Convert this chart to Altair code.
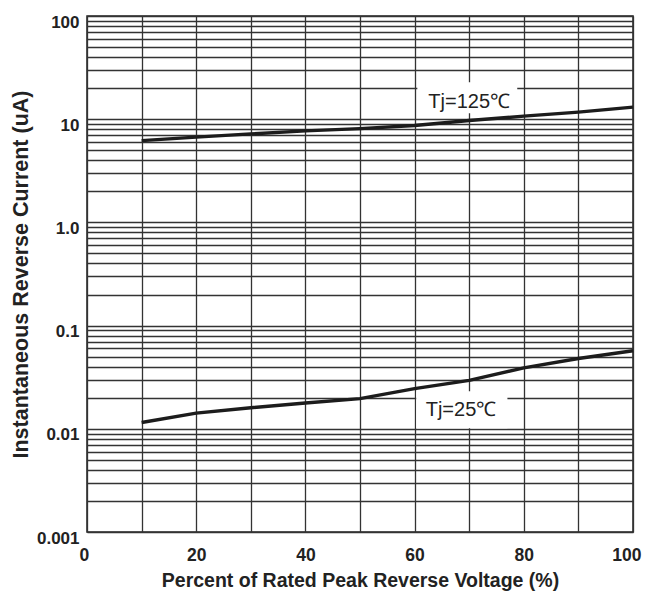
import altair as alt
import pandas as pd

# ---- data ----
x_pct = [10, 20, 30, 40, 50, 60, 70, 80, 90, 100]
i_125 = [6.2, 6.7, 7.2, 7.7, 8.1, 8.7, 9.7, 10.7, 11.7, 13.1]
i_25 = [0.0115, 0.0142, 0.016, 0.0178, 0.0196, 0.0245, 0.0295, 0.039, 0.048, 0.057]

series_names = ["Tj=125℃", "Tj=25℃"]
label_x = [70, 68.5]
label_y = [14.7, 0.0151]
box_x1 = [60.5, 60.3]
box_x2 = [78.8, 77.0]
box_y1 = [11.4, 0.0101]
box_y2 = [22.8, 0.0231]

x_ticks = [0, 20, 40, 60, 80, 100]
y_decades = [0.001, 0.01, 0.1, 1, 10, 100]
y_tick_labels = ["0.001", "0.01", "0.1", "1.0", "10", "100"]

# ---- tables ----
curves = pd.DataFrame({
    "x": x_pct * 2,
    "y": i_125 + i_25,
    "series": [series_names[0]] * len(x_pct) + [series_names[1]] * len(x_pct),
})
ann = pd.DataFrame({
    "name": series_names, "lx": label_x, "ly": label_y,
    "x1": box_x1, "x2": box_x2, "y1": box_y1, "y2": box_y2,
})

grid_y = [m * 10 ** e for e in range(-3, 2) for m in range(1, 10)] + [100]
grid_x = list(range(0, 101, 10))

lab_expr = " : ".join(
    f"abs(datum.value - {v}) < {v}*1e-6 ? '{t}'" for v, t in zip(y_decades, y_tick_labels)
) + " : ''"
x_lab_expr = "indexof([" + ",".join(str(v) for v in x_ticks) + "], datum.value) >= 0 ? datum.label : ''"

FONT = "Liberation Sans"

xs = alt.Scale(domain=[0, 100], nice=False, zero=False)
ys = alt.Scale(type="log", domain=[0.001, 100], nice=False)

x_axis = alt.Axis(
    values=grid_x, labelExpr=x_lab_expr, grid=True, ticks=False, domain=False,
    labelFont=FONT, labelFontSize=17.5, labelFontWeight="bold", labelColor="#222",
    labelPadding=14, labelAngle=0, labelFlush=True, labelFlushOffset=8, labelBound=False,
    title="Percent of Rated Peak Reverse Voltage (%)", titleFont=FONT,
    titleFontSize=19.5, titleFontWeight="bold", titleColor="#222", titlePadding=8,
    gridColor="#333", gridWidth=1.3, gridOpacity=1,
)
y_axis = alt.Axis(
    values=grid_y, labelExpr=lab_expr, grid=True, ticks=False, domain=False,
    labelFont=FONT, labelFontSize=17, labelFontWeight="bold", labelColor="#222",
    labelPadding=8, labelOffset=6,
    title="Instantaneous Reverse Current (uA)", titleFont=FONT,
    titleFontSize=21.5, titleFontWeight="bold", titleColor="#222", titlePadding=4,
    gridColor="#333", gridWidth=1.3, gridOpacity=1,
)

boxes = alt.Chart(ann).mark_rect(color="white").encode(
    x=alt.X("x1:Q", scale=xs, axis=x_axis),
    x2="x2:Q",
    y=alt.Y("y1:Q", scale=ys, axis=y_axis),
    y2="y2:Q",
)

lines = alt.Chart(curves).mark_line(color="#1c1c1c", strokeWidth=3.4).encode(
    x=alt.X("x:Q", scale=xs),
    y=alt.Y("y:Q", scale=ys),
    detail="series:N",
)

labels = alt.Chart(ann).mark_text(
    font=FONT, fontSize=20, color="#222", align="center", baseline="middle"
).encode(
    x=alt.X("lx:Q", scale=xs),
    y=alt.Y("ly:Q", scale=ys),
    text="name:N",
)

chart = alt.layer(boxes, lines, labels).properties(
    width=546, height=516,
    autosize=alt.AutoSizeParams(type="none"),
    padding={"left": 79, "top": 8, "right": 10, "bottom": 61},
    background="white",
).configure_view(stroke="#222", strokeWidth=1.5)

chart.save("out.html", embed_options={"renderer": "svg", "actions": False})
